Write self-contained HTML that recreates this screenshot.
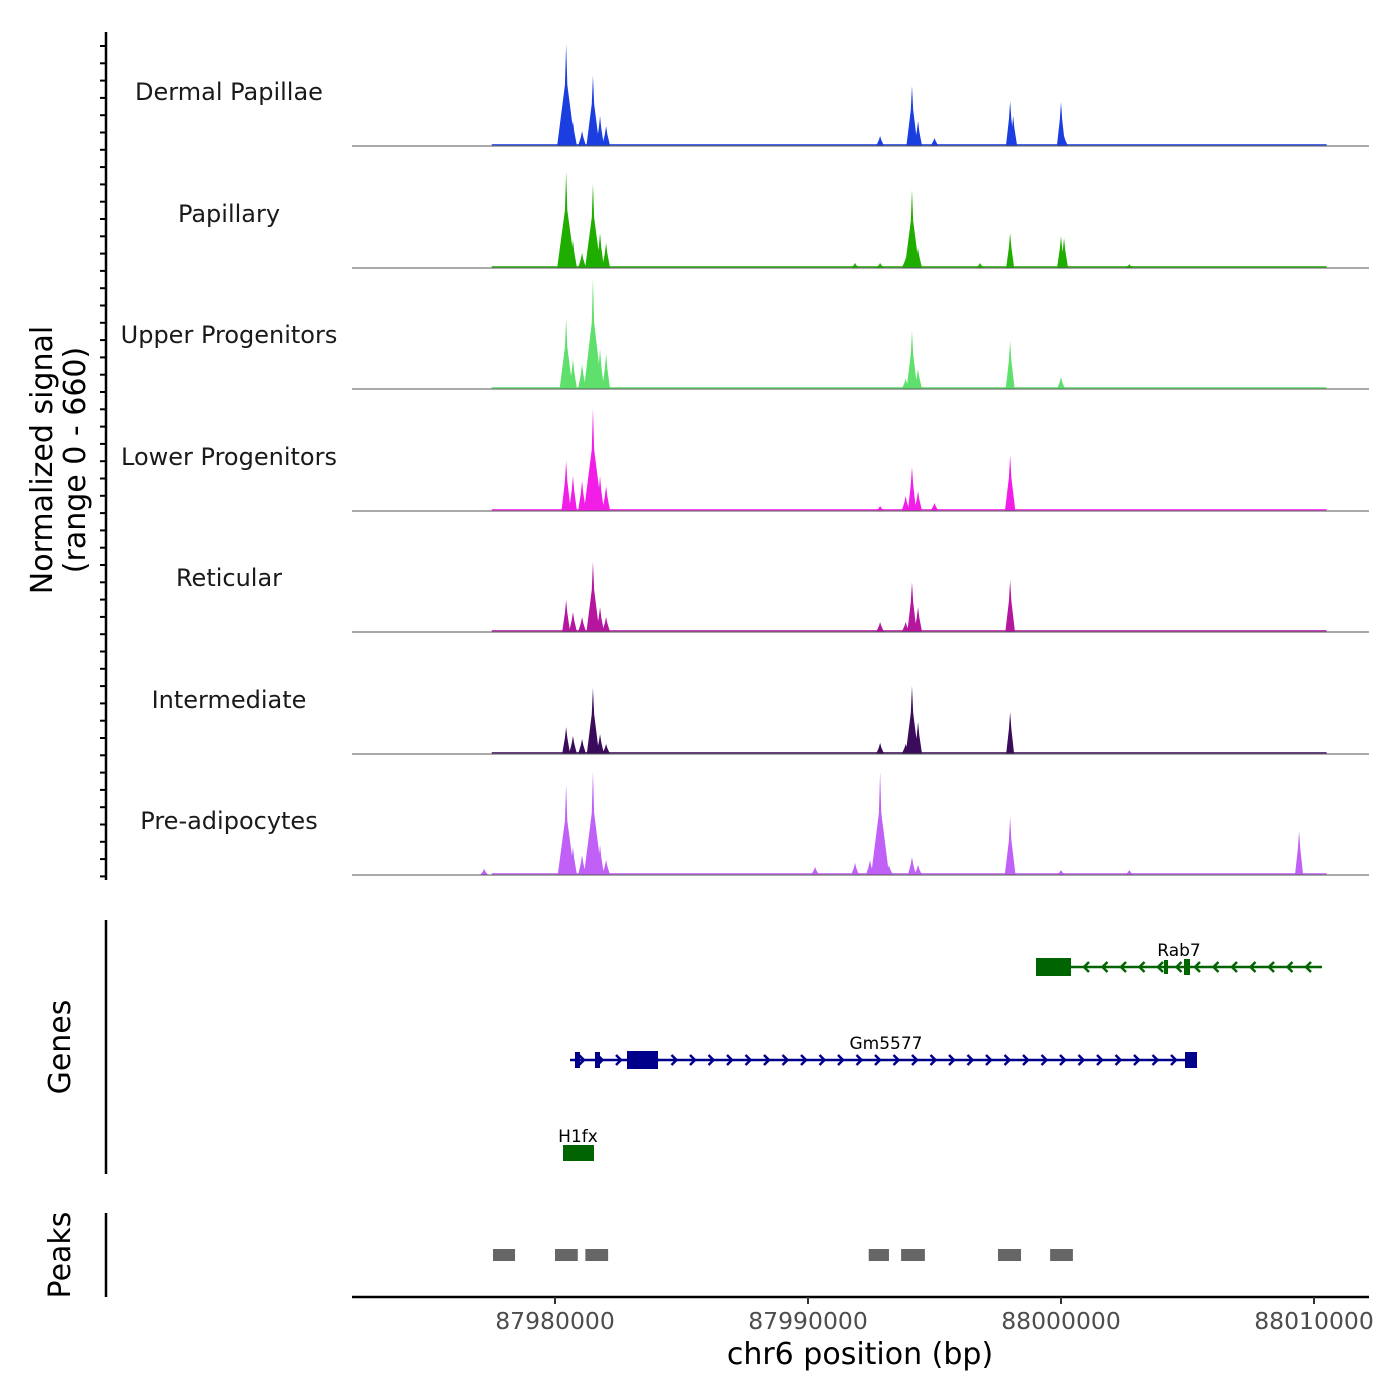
<!DOCTYPE html>
<html><head><meta charset="utf-8"><style>body{margin:0;background:#fff}svg{display:block;font-family:"DejaVu Sans","Liberation Sans",sans-serif}</style></head>
<body>
<svg id="c" width="1400" height="1400" viewBox="0 0 1400 1400"></svg>
<script>
const trackNames=["Dermal Papillae","Papillary","Upper Progenitors","Lower Progenitors","Reticular","Intermediate","Pre-adipocytes"];
const trackColors=["#1a3ee0","#1fae00","#5fe06c","#f21ee8","#b4169f","#3b0b5c","#c060f6"];
const peakPos=[87977200,87980440,87980710,87981070,87981500,87981780,87982020,87990280,87991860,87992450,87992850,87993200,87993860,87994110,87994350,87995000,87996800,87997990,87998110,88000000,88000120,88002700,88006600,88009410];
const sigDermal=[0,570,140,84,392,168,112,0,0,0,56,0,0,336,140,45,0,252,168,246,56,0,0,0];
const sigPapillary=[0,538,157,84,470,196,140,0,28,0,28,0,56,437,112,0,28,196,0,179,168,22,0,0];
const sigUpper=[0,392,168,140,616,224,196,0,0,0,0,0,56,325,112,0,0,269,0,67,0,0,0,0];
const sigLower=[0,280,196,168,571,196,140,0,0,0,28,0,84,246,112,45,0,314,0,0,0,0,0,0];
const sigReticular=[0,179,112,84,392,140,84,0,0,0,56,0,56,280,140,0,0,291,0,0,0,0,0,0];
const sigIntermediate=[0,151,101,84,370,112,56,0,0,0,62,0,56,381,179,0,0,235,0,0,0,0,0,0];
const sigPreadipocytes=[34,504,157,112,577,168,84,45,67,84,577,56,0,101,56,0,0,325,0,28,0,28,0,246];
const allSignals=[sigDermal,sigPapillary,sigUpper,sigLower,sigReticular,sigIntermediate,sigPreadipocytes];
const xTicks=[87980000,87990000,88000000,88010000];
const peakRegions=[[87977550,87978420],[87980000,87980900],[87981200,87982100],[87992400,87993200],[87993680,87994620],[87997510,87998420],[87999570,88000470]];
const NS="http://www.w3.org/2000/svg";
const svg=document.getElementById('c');
const X0=87980000,PX0=555,PPB=253/10000;
const sx=b=>PX0+(b-X0)*PPB;
const sy=(v,base)=>base-v/660*118;
function mk(t,a,p){const e=document.createElementNS(NS,t);for(const k in a)e.setAttribute(k,a[k]);(p||svg).appendChild(e);return e;}
let ax=mk('line',{x1:106,y1:32,x2:106,y2:880,stroke:'#000','stroke-width':2.5});


for(let y=46;y<=878;y+=17.3){const t=mk('line',{x1:100,y1:y,x2:106,y2:y,stroke:'#000','stroke-width':2});

}
let yt=mk('text',{transform:'translate(52,460) rotate(-90)','text-anchor':'middle','font-size':30,fill:'#000'});


yt.innerHTML='<tspan x="0" dy="0">Normalized signal</tspan><tspan x="0" dy="33">(range 0 - 660)</tspan>';
const bases=[146,268,389,511,632,754,875];
allSignals.forEach((sig,i)=>{
  const base=bases[i];
  const g=mk('g',{});
  
  
  let d=`M${sx(87977500)},${base} L${sx(87977500)},${base-2} L${sx(88010500)},${base-2} L${sx(88010500)},${base} Z`;
  mk('path',{d,fill:trackColors[i],opacity:0.8},g);
  sig.forEach((v,j)=>{if(v<=0)return;const cx=sx(peakPos[j]);const w=Math.max(4,Math.min(9,v/60));
    const p=mk('path',{d:`M${cx-w},${base} L${cx-1.2},${sy(v*0.6,base)} L${cx},${sy(v,base)} L${cx+1.2},${sy(v*0.6,base)} L${cx+w},${base} Z`,fill:trackColors[i]},g);
    
    });
  mk('line',{x1:352,y1:base,x2:1369,y2:base,stroke:'#555','stroke-width':1},g);
  const lb=mk('text',{x:229,y:base-46,'text-anchor':'middle','font-size':24,fill:'#1a1a1a'});
  
  
  lb.textContent=trackNames[i];
});
let ga=mk('line',{x1:106,y1:920,x2:106,y2:1174,stroke:'#000','stroke-width':2.5});


let gt=mk('text',{transform:'translate(70,1047) rotate(-90)','text-anchor':'middle','font-size':30});


gt.textContent='Genes';
function gene(name,x1,x2,y,col,dir,boxes,lx){
  const g=mk('g',{});
  
  
  mk('line',{x1,y1:y,x2,y2:y,stroke:col,'stroke-width':2.5},g);
  if(dir){for(let x=x1+12;x<x2-8;x+=18.5){const d=dir>0?`M${x-3},${y-5} L${x+2},${y} L${x-3},${y+5}`:`M${x+3},${y-5} L${x-2},${y} L${x+3},${y+5}`;mk('path',{d,stroke:col,fill:'none','stroke-width':2.5},g);}}
  boxes.forEach(b=>mk('rect',{x:b[0],y:y-b[2]/2,width:b[1]-b[0],height:b[2],fill:col},g));
  const t=mk('text',{x:lx,y:y-11,'text-anchor':'middle','font-size':17},g);t.textContent=name;
}
gene('Rab7',1037,1322,967,'#006400',-1,[[1036,1071,18],[1164,1168,14],[1184,1190,16]],1179);
gene('Gm5577',570,1196,1060,'#00008b',1,[[627,658,18],[575,580,16],[595,600,16],[1185,1197,16]],886);
gene('H1fx',563,594,1153,'#006400',0,[[563,594,16]],578);
let pa=mk('line',{x1:106,y1:1213,x2:106,y2:1297,stroke:'#000','stroke-width':2.5});


let pt=mk('text',{transform:'translate(70,1255) rotate(-90)','text-anchor':'middle','font-size':30});


pt.textContent='Peaks';
peakRegions.forEach(r=>{const e=mk('rect',{x:sx(r[0]),y:1249,width:sx(r[1])-sx(r[0]),height:12,fill:'#666'});

});
let xa=mk('line',{x1:352,y1:1297,x2:1369,y2:1297,stroke:'#000','stroke-width':2.5});


xTicks.forEach(v=>{const x=sx(v);mk('line',{x1:x,y1:1297,x2:x,y2:1304,stroke:'#333','stroke-width':2});
const t=mk('text',{x,y:1329,'text-anchor':'middle','font-size':23.5,fill:'#4d4d4d'});


t.textContent=v;});
let xt=mk('text',{x:860,y:1364,'text-anchor':'middle','font-size':30});


xt.textContent='chr6 position (bp)';
</script>
</body></html>
